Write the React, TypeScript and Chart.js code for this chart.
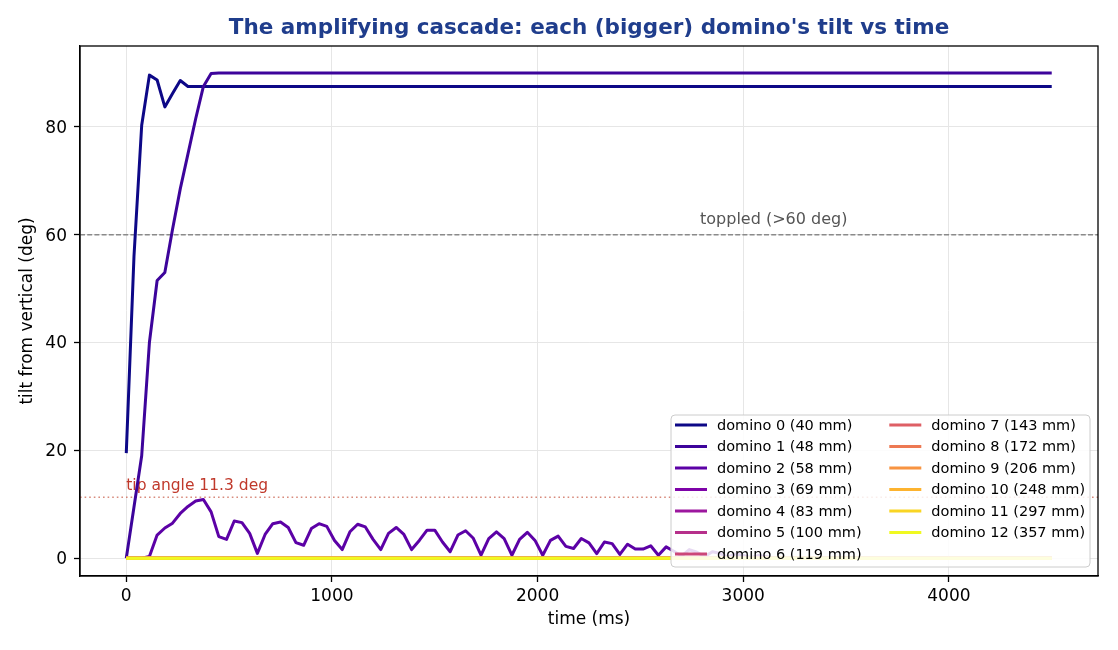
import React, { useEffect, useRef } from "react";
import { Chart, registerables } from "chart.js";

Chart.register(...registerables);

const FONT = "'DejaVu Sans', 'Noto Sans', sans-serif";

// simulation log is sampled every 37.5 ms, the run ends at 4500 ms
const SAMPLE_MS = 37.5;
const END_MS = 4500;

const dominoSizes = [40, 48, 58, 69, 83, 100, 119, 143, 172, 206, 248, 297, 357];

// plasma colormap, one step per domino
const dominoColors = [
  "#0d0887", "#3d049b", "#5c01a6", "#7e03a8", "#9c179e", "#b6308b", "#cc4778",
  "#de5f65", "#ed7953", "#f89441", "#fdb32f", "#f9d524", "#f0f921",
];

// tilt (deg) per sample; the last value is held until END_MS
const tilt0 = [19.5, 56, 80.3, 89.6, 88.7, 83.7, 86.2, 88.6, 87.5];
const tilt1 = [0, 9.5, 19, 40, 51.5, 53, 61, 68.5, 75, 81.5, 87.5, 89.9, 90];
const tilt2 = [
  0, 0, 0, 0.3, 4.3, 5.6, 6.5, 8.3, 9.6, 10.6, 10.9, 8.6, 4.0, 3.5, 6.9, 6.6,
  4.6, 0.9, 4.4, 6.4, 6.7, 5.7, 2.9, 2.4, 5.5, 6.4, 5.9, 3.3, 1.6, 4.9, 6.3,
  5.8, 3.5, 1.6, 4.6, 5.7, 4.4, 1.6, 3.3, 5.2, 5.2, 3.0, 1.2, 4.3, 5.1, 3.7,
  0.55, 3.65, 4.9, 3.65, 0.55, 3.5, 4.8, 3.3, 0.55, 3.3, 4.1, 2.2, 1.8, 3.65,
  2.85, 0.85, 3.0, 2.7, 0.7, 2.6, 1.7, 1.7, 2.3, 0.55, 2.1, 1.3, 0.4, 1.6,
  1.1, 0.3, 1.2, 0.9, 0.2, 0.8, 0.5, 0.1, 0.5, 0.3, 0,
];
const still = [0];

const tiltSeries = [
  tilt0, tilt1, tilt2, still, still, still, still, still, still, still, still, still, still,
];

const xTicks = [0, 1000, 2000, 3000, 4000];
const yTicks = [0, 20, 40, 60, 80];

const TOPPLE_DEG = 60;
const TIP_DEG = 11.3;

const TITLE = "The amplifying cascade: each (bigger) domino's tilt vs time";

const toPoints = (vals: number[]) => {
  const pts = vals.map((v, i) => ({ x: i * SAMPLE_MS, y: v }));
  pts.push({ x: END_MS, y: vals[vals.length - 1] });
  return pts;
};

const guidesPlugin = {
  id: "guides",
  beforeDatasetsDraw(chart: any) {
    const { ctx, chartArea, scales } = chart;
    const { x, y } = scales;
    ctx.save();
    // toppled threshold
    const yT = y.getPixelForValue(TOPPLE_DEG);
    ctx.beginPath();
    ctx.setLineDash([5, 2.2]);
    ctx.strokeStyle = "#8a8a8a";
    ctx.lineWidth = 1.4;
    ctx.moveTo(chartArea.left, yT);
    ctx.lineTo(chartArea.right, yT);
    ctx.stroke();
    // tip angle
    const yTip = y.getPixelForValue(TIP_DEG);
    ctx.beginPath();
    ctx.setLineDash([1.6, 3]);
    ctx.strokeStyle = "rgba(200,90,70,0.7)";
    ctx.lineWidth = 1.5;
    ctx.moveTo(chartArea.left, yTip);
    ctx.lineTo(chartArea.right, yTip);
    ctx.stroke();
    ctx.setLineDash([]);

    ctx.textAlign = "left";
    ctx.textBaseline = "alphabetic";
    ctx.font = `16px ${FONT}`;
    ctx.fillStyle = "#555555";
    ctx.fillText("toppled (>60 deg)", x.getPixelForValue(2790), yT - 11);
    ctx.font = `15.5px ${FONT}`;
    ctx.fillStyle = "#c0392b";
    ctx.fillText(`tip angle ${TIP_DEG} deg`, x.getPixelForValue(0), yTip - 7);
    ctx.restore();
  },
};

const legendPlugin = {
  id: "dominoLegend",
  afterDatasetsDraw(chart: any) {
    const { ctx, chartArea } = chart;
    const w = 419;
    const h = 152;
    const x0 = chartArea.right - 8 - w;
    const y0 = chartArea.bottom - 9 - h;
    ctx.save();
    ctx.beginPath();
    ctx.roundRect(x0, y0, w, h, 4);
    ctx.fillStyle = "rgba(255,255,255,0.85)";
    ctx.fill();
    ctx.strokeStyle = "#cccccc";
    ctx.lineWidth = 1;
    ctx.stroke();

    ctx.font = `14.5px ${FONT}`;
    ctx.textAlign = "left";
    ctx.textBaseline = "middle";
    dominoSizes.forEach((size, i) => {
      const col = i < 7 ? 0 : 1;
      const row = i < 7 ? i : i - 7;
      const lx = x0 + 4 + col * 214.3;
      const ly = y0 + 10 + row * 21.5;
      ctx.beginPath();
      ctx.strokeStyle = dominoColors[i];
      ctx.lineWidth = 3;
      ctx.moveTo(lx, ly);
      ctx.lineTo(lx + 32, ly);
      ctx.stroke();
      ctx.fillStyle = "#000000";
      ctx.fillText(`domino ${i} (${size} mm)`, lx + 42, ly + 1);
    });
    ctx.restore();
  },
};

const framePlugin = {
  id: "frame",
  afterDraw(chart: any) {
    const { ctx, chartArea } = chart;
    ctx.save();
    ctx.strokeStyle = "#000000";
    ctx.lineWidth = 1.3;
    ctx.strokeRect(
      chartArea.left,
      chartArea.top,
      chartArea.right - chartArea.left,
      chartArea.bottom - chartArea.top
    );
    ctx.font = `bold 21.5px ${FONT}`;
    ctx.fillStyle = "#1f3d8c";
    ctx.textAlign = "center";
    ctx.textBaseline = "alphabetic";
    ctx.fillText(TITLE, (chartArea.left + chartArea.right) / 2, 34);
    ctx.restore();
  },
};

const CascadeChart: React.FC = () => {
  const canvasRef = useRef<HTMLCanvasElement | null>(null);

  useEffect(() => {
    if (!canvasRef.current) return;

    const datasets = tiltSeries.map((vals, i) => ({
      label: `domino ${i} (${dominoSizes[i]} mm)`,
      data: toPoints(vals),
      borderColor: dominoColors[i],
      backgroundColor: dominoColors[i],
      borderWidth: 3,
      pointRadius: 0,
      tension: 0,
      borderJoinStyle: "round" as const,
      order: 12 - i, // later dominoes on top, like matplotlib
    }));

    const chart = new Chart(canvasRef.current, {
      type: "line",
      data: { datasets },
      options: {
        responsive: true,
        maintainAspectRatio: false,
        animation: false,
        events: [],
        layout: { padding: { top: 46, right: 20, left: 0, bottom: 0 } },
        plugins: {
          legend: { display: false },
          title: { display: false },
          tooltip: { enabled: false },
        },
        scales: {
          x: {
            type: "linear",
            min: -225,
            max: 4725,
            afterBuildTicks: (axis: any) => {
              axis.ticks = xTicks.map((v) => ({ value: v }));
            },
            afterFit: (axis: any) => {
              axis.height = 74;
            },
            ticks: {
              font: { family: FONT, size: 17 },
              color: "#000",
              padding: 4,
              maxRotation: 0,
              callback: (v: any) => String(v),
            },
            grid: {
              color: "#e6e6e6",
              lineWidth: 1,
              tickColor: "#000",
              tickLength: 6,
              tickWidth: 1.3,
            },
            border: { color: "#000", width: 1.3 },
            title: {
              display: true,
              text: "time (ms)",
              font: { family: FONT, size: 17 },
              color: "#000",
              padding: { top: 0, bottom: 20 },
            },
          },
          y: {
            type: "linear",
            min: -3.3,
            max: 95,
            afterBuildTicks: (axis: any) => {
              axis.ticks = yTicks.map((v) => ({ value: v }));
            },
            afterFit: (axis: any) => {
              axis.width = 80;
            },
            ticks: {
              font: { family: FONT, size: 17 },
              color: "#000",
              padding: 7,
              labelOffset: 1.5,
              callback: (v: any) => String(v),
            },
            grid: {
              color: "#e6e6e6",
              lineWidth: 1,
              tickColor: "#000",
              tickLength: 6,
              tickWidth: 1.3,
            },
            border: { color: "#000", width: 1.3 },
            title: {
              display: true,
              text: "tilt from vertical (deg)",
              font: { family: FONT, size: 17 },
              color: "#000",
              padding: { top: 17, bottom: 0 },
            },
          },
        },
      },
      plugins: [guidesPlugin, legendPlugin, framePlugin],
    });

    return () => {
      chart.destroy();
    };
  }, []);

  return (
    <div style={{ position: "fixed", left: 0, top: 0, width: 1118, height: 650, background: "#fff" }}>
      <canvas ref={canvasRef}></canvas>
    </div>
  );
};

export default function App() {
  return <CascadeChart />;
}
